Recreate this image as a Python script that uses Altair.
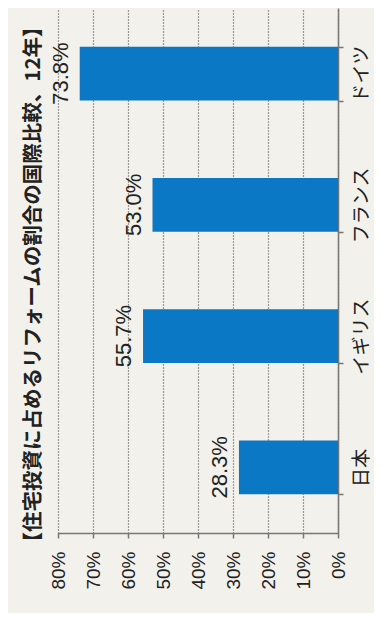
import altair as alt
import pandas as pd

categories = ["ドイツ", "フランス", "イギリス", "日本"]
values = [73.8, 53.0, 55.7, 28.3]
value_labels = ["73.8%", "53.0%", "55.7%", "28.3%"]
tick_values = [0, 10, 20, 30, 40, 50, 60, 70, 80]
title_text = "【住宅投資に占めるリフォームの割合の国際比較、12年】"

df = pd.DataFrame({"country": categories, "value": values, "label": value_labels})

LATIN = "Liberation Sans, Noto Sans CJK JP"
CJK = "Noto Sans CJK JP"

x_enc = alt.X(
    "value:Q",
    scale=alt.Scale(domain=[0, 80], reverse=True, nice=False, zero=True),
    axis=alt.Axis(
        values=tick_values,
        labelExpr="datum.value + '%'",
        labelOverlap=False,
        title=None,
        orient="bottom",
        labelAngle=270,
        labelAlign="right",
        labelBaseline="middle",
        labelFont=LATIN,
        labelFontSize=19,
        labelColor="#222222",
        labelPadding=13,
        tickSize=5,
        tickColor="#777777",
        tickWidth=1.5,
        domainColor="#777777",
        domainWidth=1.5,
        grid=True,
        gridColor="#444444",
        gridDash=[1, 2],
        gridWidth=1.2,
    ),
)

y_enc = alt.Y(
    "country:N",
    sort=categories,
    scale=alt.Scale(paddingInner=0.59, paddingOuter=0.295),
    axis=alt.Axis(
        orient="right",
        title=None,
        labelAngle=270,
        labelAlign="center",
        labelBaseline="top",
        labelFont=CJK,
        labelFontSize=19,
        labelColor="#222222",
        labelPadding=9,
        tickBand="extent",
        tickSize=5,
        tickColor="#777777",
        tickWidth=1.5,
        domainColor="#777777",
        domainWidth=1.5,
        grid=False,
    ),
)

base = alt.Chart(df).encode(x=x_enc, y=y_enc)

bars = base.mark_bar(color="#0A78C4")

texts = base.mark_text(
    angle=270,
    align="center",
    baseline="bottom",
    dy=-7,
    font=LATIN,
    fontSize=22,
    color="#222222",
).encode(text="label:N")

chart = (
    alt.layer(bars, texts)
    .properties(
        width=280,
        height=525,
        autosize=alt.AutoSizeParams(type="none"),
        padding={"left": 50, "top": 0, "right": 36, "bottom": 80},
        title=alt.TitleParams(
            title_text,
            orient="left",
            anchor="middle",
            font=CJK,
            fontSize=20.5,
            fontWeight="bold",
            color="#222222",
            offset=5,
            dx=-14,
        ),
    )
    .configure(background="#F2F1EB")
    .configure_view(stroke=None)
)

chart.save("out.html", embed_options={"renderer": "svg", "actions": False})
